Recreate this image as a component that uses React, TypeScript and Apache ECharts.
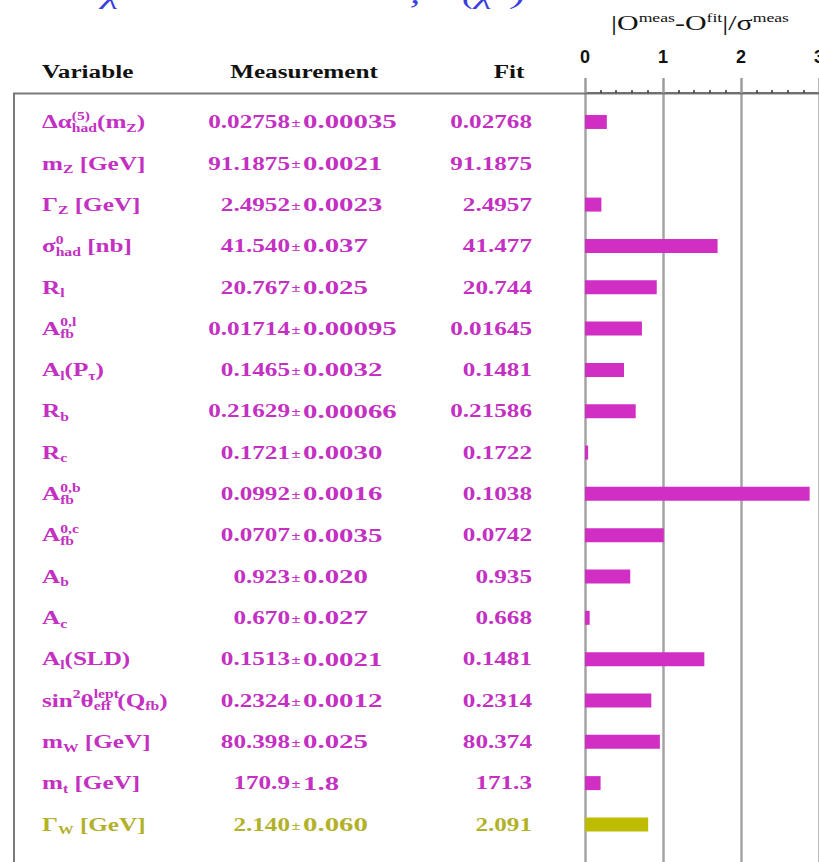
import React, { useEffect, useRef } from "react";
import * as echarts from "echarts";

// ---------- data ----------
const variables = [
  "Δα(5)had(mZ)", "mZ [GeV]", "ΓZ [GeV]", "σ0had [nb]", "Rl", "A0,lfb", "Al(Pτ)", "Rb", "Rc",
  "A0,bfb", "A0,cfb", "Ab", "Ac", "Al(SLD)", "sin2θlepteff(Qfb)", "mW [GeV]", "mt [GeV]", "ΓW [GeV]",
];
// rich-text markup of the variable names (main line with subscripts)
const variableMarkup = [
  "{n|Δα}{b|had}{n|(m}{b|Z}{n|)}",
  "{n|m}{b|Z}{n| [GeV]}",
  "{n|Γ}{b|Z}{n| [GeV]}",
  "{n|σ}{b|had}{n| [nb]}",
  "{n|R}{b|l}",
  "{n|A}{b|fb}",
  "{n|A}{b|l}{n|(P}{b|τ}{n|)}",
  "{n|R}{b|b}",
  "{n|R}{b|c}",
  "{n|A}{b|fb}",
  "{n|A}{b|fb}",
  "{n|A}{b|b}",
  "{n|A}{b|c}",
  "{n|A}{b|l}{n|(SLD)}",
  "{n|sin}{p|2}{n|θ}{b|eff}{n| (Q}{b|fb}{n|)}",
  "{n|m}{b|W}{n| [GeV]}",
  "{n|m}{b|t}{n| [GeV]}",
  "{n|Γ}{b|W}{n| [GeV]}",
];
// stacked superscripts drawn over the subscripts
const variableSupMarkup = [
  "{hn|Δα}{p|(5)}", "", "", "{hn|σ}{p|0}", "", "{hn|A}{p|0,l}", "", "", "",
  "{hn|A}{p|0,b}", "{hn|A}{p|0,c}", "", "", "", "{hn|sin}{hp|2}{hn|θ}{p|lept}", "", "", "",
];
const measuredValues = [
  "0.02758", "91.1875", "2.4952", "41.540", "20.767", "0.01714", "0.1465", "0.21629", "0.1721",
  "0.0992", "0.0707", "0.923", "0.670", "0.1513", "0.2324", "80.398", "170.9", "2.140",
];
const measuredErrors = [
  "0.00035", "0.0021", "0.0023", "0.037", "0.025", "0.00095", "0.0032", "0.00066", "0.0030",
  "0.0016", "0.0035", "0.020", "0.027", "0.0021", "0.0012", "0.025", "1.8", "0.060",
];
const fitValues = [
  "0.02768", "91.1875", "2.4957", "41.477", "20.744", "0.01645", "0.1481", "0.21586", "0.1722",
  "0.1038", "0.0742", "0.935", "0.668", "0.1481", "0.2314", "80.374", "171.3", "2.091",
];
const pulls = [0.28, 0.0, 0.21, 1.7, 0.92, 0.73, 0.5, 0.65, 0.04, 2.88, 1.01, 0.58, 0.06, 1.53, 0.85, 0.96, 0.2, 0.81];
const highlighted = ["ΓW [GeV]"];
const headers = ["Variable", "Measurement", "Fit"];
const pullAxisMin = 0;
const pullAxisMax = 3;

// ---------- styles ----------
const MAGENTA_TEXT = "#c330c2";
const MAGENTA_BAR = "#d12fc4";
const OLIVE_TEXT = "#b2b12a";
const OLIVE_BAR = "#bdbc00";
const SERIF = "'Liberation Serif', 'Times New Roman', serif";
const SANS = "'Liberation Sans', Arial, sans-serif";
const SX = 1.36;
const SX_ERR = 1.56;
const FS = 18.5;
const SUBFS = 11.5;

const nameRich: any = {
  n: { fontSize: FS, fontWeight: "bold", fontFamily: SERIF, lineHeight: 24 },
  b: { fontSize: SUBFS, fontWeight: "bold", fontFamily: SERIF, lineHeight: 8, verticalAlign: "bottom" },
  p: { fontSize: SUBFS, fontWeight: "bold", fontFamily: SERIF, lineHeight: 8, verticalAlign: "top" },
  hn: { fontSize: FS, fontWeight: "bold", fontFamily: SERIF, lineHeight: 24, fill: "rgba(0,0,0,0)" },
  hp: { fontSize: SUBFS, fontWeight: "bold", fontFamily: SERIF, lineHeight: 8, verticalAlign: "top", fill: "rgba(0,0,0,0)" },
};

export default function App() {
  const ref = useRef<HTMLDivElement>(null);

  useEffect(() => {
    if (!ref.current) return;
    const chart = echarts.init(ref.current, null, { renderer: "svg" });

    const colorOf = (i: number, text: boolean) =>
      highlighted.includes(variables[i]) ? (text ? OLIVE_TEXT : OLIVE_BAR) : text ? MAGENTA_TEXT : MAGENTA_BAR;

    chart.setOption({
      animation: false,
      backgroundColor: "#ffffff",
      grid: [
        { left: 585, right: 0, top: 93, bottom: 0, containLabel: false, outerBoundsMode: "none" },
        { left: 585, right: 0, top: 101.3, height: 743.8, containLabel: false, outerBoundsMode: "none" },
      ],
      xAxis: [
        {
          gridIndex: 0,
          type: "value",
          position: "top",
          min: pullAxisMin,
          max: pullAxisMax,
          interval: 1,
          axisLine: { show: true, onZero: false, lineStyle: { color: "#707070", width: 2 } },
          axisTick: { show: true, length: 15, lineStyle: { color: "#9c9c9c", width: 2.5 } },
          minorTick: { show: true, splitNumber: 5, length: 3, lineStyle: { color: "#333333", width: 1.5 } },
          splitLine: { show: true, lineStyle: { color: "#a4a4a4", width: 2.5 } },
          axisLabel: {
            show: true,
            margin: 27,
            fontFamily: SANS,
            fontWeight: "bold",
            fontSize: 18,
            color: "#111111",
            showMaxLabel: true,
          },
        },
        { gridIndex: 1, type: "value", min: pullAxisMin, max: pullAxisMax, show: false },
      ],
      yAxis: [
        { gridIndex: 0, type: "value", show: false },
        { gridIndex: 1, type: "category", data: variables, inverse: true, show: false },
      ],
      series: [
        {
          type: "bar",
          xAxisIndex: 1,
          yAxisIndex: 1,
          barWidth: 14,
          data: pulls.map((v, i) => ({ value: v, itemStyle: { color: colorOf(i, false) } })),
        },
      ],
    });

    const graphics: any[] = [];
    // frame
    graphics.push({
      type: "polyline",
      silent: true,
      z: 0,
      shape: { points: [[14, 862], [14, 93.5], [819, 93.5]] },
      style: { stroke: "#7a7a7a", lineWidth: 2, fill: null },
    });
    // cropped blue caption fragments at the top (cut off by the picture edge, as in the source)
    const blueStyle = { fill: "#3d3fdc", fontSize: 30, fontStyle: "italic", fontFamily: SERIF, verticalAlign: "bottom" };
    graphics.push({ type: "text", x: 102, y: 8, scaleX: SX, style: { ...blueStyle, text: "χ", align: "left" } });
    graphics.push({ type: "text", x: 410, y: 8, scaleX: SX, style: { ...blueStyle, text: ",", align: "left" } });
    graphics.push({ type: "text", x: 462, y: 8, scaleX: SX, style: { ...blueStyle, text: "(χ", align: "left" } });
    graphics.push({ type: "text", x: 512, y: 8, scaleX: SX, style: { ...blueStyle, text: ")", align: "left" } });
    // axis title
    graphics.push({
      type: "text",
      x: 700,
      y: 23,
      scaleX: SX,
      style: {
        text: "{t||O}{s|meas}{t|-O}{s|fit}{t||/σ}{s|meas}",
        align: "center",
        verticalAlign: "middle",
        fill: "#111111",
        rich: {
          t: { fontSize: 22, fontFamily: SERIF, lineHeight: 24 },
          s: { fontSize: 13, fontFamily: SERIF, lineHeight: 10, verticalAlign: "top" },
        },
      },
    });
    // column headers
    const headerStyle = { fill: "#111111", fontSize: FS, fontWeight: "bold", fontFamily: SERIF, verticalAlign: "middle" };
    graphics.push({ type: "text", x: 42, y: 72, scaleX: SX, style: { ...headerStyle, text: headers[0], align: "left" } });
    graphics.push({ type: "text", x: 304, y: 72, scaleX: SX, style: { ...headerStyle, text: headers[1], align: "center" } });
    graphics.push({ type: "text", x: 509, y: 72, scaleX: SX, style: { ...headerStyle, text: headers[2], align: "center" } });

    variables.forEach((v, i) => {
      const y = chart.convertToPixel({ yAxisIndex: 1 }, i) as number;
      const fill = colorOf(i, true);
      const base = { fill, fontSize: FS, fontWeight: "bold", fontFamily: SERIF, verticalAlign: "middle" };
      graphics.push({
        type: "text", x: 42, y, scaleX: SX,
        style: { ...base, text: variableMarkup[i], align: "left", rich: nameRich },
      });
      if (variableSupMarkup[i]) {
        graphics.push({
          type: "text", x: 42, y, scaleX: SX,
          style: { ...base, text: variableSupMarkup[i], align: "left", rich: nameRich },
        });
      }
      graphics.push({ type: "text", x: 290, y, scaleX: SX, style: { ...base, text: measuredValues[i], align: "right" } });
      graphics.push({ type: "text", x: 296, y: y + 1, scaleX: SX, style: { ...base, fontSize: 12, text: "±", align: "center" } });
      graphics.push({ type: "text", x: 303, y, scaleX: SX_ERR, style: { ...base, text: measuredErrors[i], align: "left" } });
      graphics.push({ type: "text", x: 532, y, scaleX: SX, style: { ...base, text: fitValues[i], align: "right" } });
    });

    chart.setOption({ graphic: graphics });

    return () => chart.dispose();
  }, []);

  return (
    <div
      ref={ref}
      style={{ position: "absolute", left: 0, top: 0, width: 819, height: 862, background: "#fff" }}
    />
  );
}
